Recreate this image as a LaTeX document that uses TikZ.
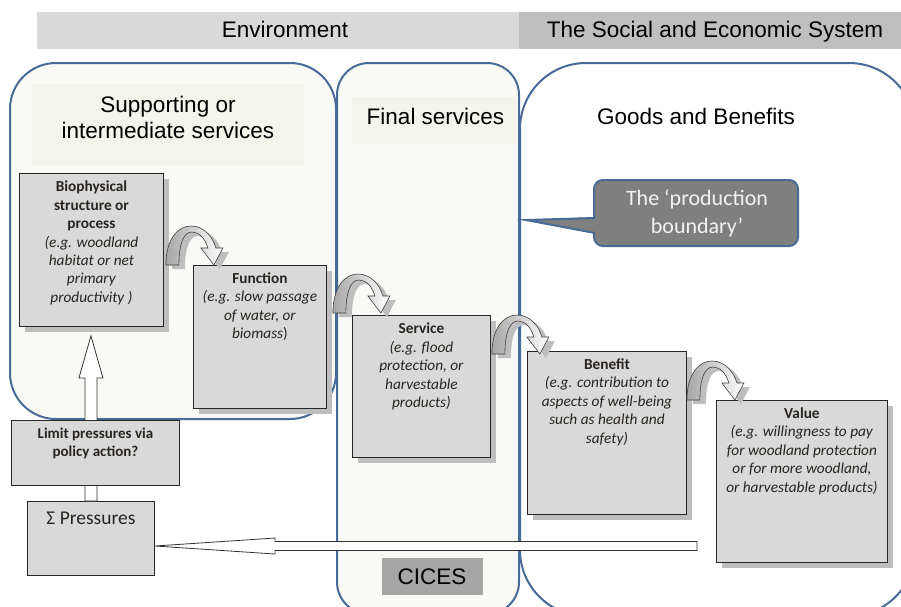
\documentclass[tikz,border=0pt]{standalone}
\usepackage{fontspec}
\setmainfont{Liberation Sans}
\newfontfamily\calfont{Carlito}
\usetikzlibrary{calc,shadows}
\definecolor{bline}{RGB}{71,107,150}
\definecolor{envbar}{RGB}{217,217,217}
\definecolor{socbar}{RGB}{191,191,191}
\definecolor{regfill}{RGB}{249,250,245}
\definecolor{labfill}{RGB}{243,244,236}
\definecolor{calfill}{RGB}{127,127,127}
\definecolor{boxgray}{RGB}{217,217,217}
\definecolor{shadgray}{RGB}{190,190,190}
\definecolor{cicesgray}{RGB}{166,166,166}
\definecolor{txtdark}{RGB}{40,36,32}
\tikzset{
  region/.style={draw=bline, line width=2pt},
  hdr/.style={font=\fontsize{22.5}{26.5}\selectfont, align=center, inner sep=0pt, anchor=base},
  plainbox/.style={draw=black!85, fill=boxgray, line width=0.9pt, inner sep=0pt, anchor=north west},
  gbox/.style={plainbox, drop shadow={shadow xshift=6pt, shadow yshift=-6pt, fill=shadgray, opacity=1}},
  btxt/.style={font=\calfont\fontsize{15.3}{18.4}\selectfont, align=center, inner sep=0pt, anchor=north, text=txtdark},
  blockarrow/.style={draw=black!80, fill=white, line width=0.8pt, line join=miter},
  uturn/.pic={
    \fill[shadgray] (6,4) .. controls (6,-22) and (18,-35) .. (31,-35) .. controls (44,-35) and (53,-24) .. (56,-13) -- (63,-13) -- (54,4) -- (41,-13) -- (48,-13) .. controls (45,-23) and (39,-29) .. (32,-29) .. controls (24,-29) and (19,-18) .. (19,4) -- cycle;
    \draw[draw=black!75, line width=0.6pt, left color=black!35, middle color=white, right color=white] (0,0) .. controls (0,-26) and (12,-39) .. (25,-39) .. controls (38,-39) and (47,-28) .. (50,-17) -- (57,-17) -- (48,0) -- (35,-17) -- (42,-17) .. controls (39,-27) and (33,-33) .. (26,-33) .. controls (18,-33) and (13,-22) .. (13,0) -- cycle;
  }
}
\begin{document}
\begin{tikzpicture}[x=1pt,y=-1pt]
\useasboundingbox (0,0) rectangle (901,606);
\clip (0,0) rectangle (901,606);
% header bars
\fill[envbar] (37,12) rectangle (519,49);
\fill[socbar] (519,12) rectangle (901,49);
\node[hdr] (env) at (285,37.5) {Environment};
\node[hdr] (soc) at (715,37.5) {The Social and Economic System};
% regions
\draw[region, fill=regfill, rounded corners=46pt] (10,63) rectangle (336,419);
\draw[region, fill=regfill, rounded corners=32pt] (337,63) rectangle (519,614);
\draw[region, fill=white, rounded corners=66pt] (520,63) rectangle (915,616);
% region labels
\fill[labfill] (32,84) rectangle (304,166);
\fill[labfill] (352,97) rectangle (517,144);
\node[hdr] (supp) at (168,138.5) {Supporting or\\intermediate services};
\node[hdr] (fin) at (435.5,124) {Final services};
\node[hdr] (goods) at (696,124) {Goods and Benefits};
% callout
\draw[region, fill=calfill, rounded corners=9pt] (594,180) rectangle (798,246);
\fill[calfill] (526,220) -- (596,217) -- (596,234) -- cycle;
\draw[bline, line width=2pt, line join=miter] (595,218) -- (526,220) -- (595,233);
\node[font=\calfont\fontsize{22}{28}\selectfont, text=white!95!black, align=center, inner sep=0pt] (cal) at (697,213) {The ‘production\\boundary’};
% CICES
\node[fill=cicesgray, minimum width=101pt, minimum height=37pt, inner sep=0pt, anchor=north west] (cicesbox) at (382,558) {};
\node[font=\fontsize{22.5}{26}\selectfont, inner sep=0pt, anchor=base] (cices) at (432,584.3) {CICES};
% boxes
\node[gbox, minimum width=144pt, minimum height=153pt] (bio) at (19,173) {};
\node[gbox, minimum width=133pt, minimum height=143pt] (func) at (193,265) {};
\node[gbox, minimum width=138pt, minimum height=142pt] (serv) at (352,315) {};
\node[gbox, minimum width=159pt, minimum height=163pt] (ben) at (527,351) {};
\node[gbox, minimum width=171pt, minimum height=162pt] (val) at (716,400) {};
\node[plainbox, minimum width=127pt, minimum height=74pt] (sig) at (27,501) {};
% up arrow (drawn under the limit box)
\draw[blockarrow] ($(sig.north)+(-6,0)$) -- ($(sig.north)+(-6,-123)$) -- ($(sig.north)+(-12,-123)$)
  -- ($(sig.north |- bio.south)+(0,9)$) -- ($(sig.north)+(12,-123)$) -- ($(sig.north)+(6,-123)$)
  -- ($(sig.north)+(6,0)$) -- cycle;
\node[plainbox, minimum width=168pt, minimum height=65pt] (lim) at (11,420) {};
% box texts
\node[btxt] (biot) at ($(bio.north)+(0,8)$) {\textbf{Biophysical}\\\textbf{structure or}\\\textbf{process}\\\textit{(e.g. woodland}\\\textit{habitat or net}\\\textit{primary}\\\textit{productivity )}};
\node[btxt] (funct) at ($(func.north)+(0,7.5)$) {\textbf{Function}\\\textit{(e.g. slow passage}\\\textit{of water, or}\\\textit{biomass})};
\node[btxt] (servt) at ($(serv.north)+(0,8)$) {\textbf{Service}\\\textit{(e.g. flood}\\\textit{protection, or}\\\textit{harvestable}\\\textit{products)}};
\node[btxt] (bent) at ($(ben.north)+(0,7.5)$) {\textbf{Benefit}\\\textit{(e.g. contribution to}\\\textit{aspects of well-being}\\\textit{such as health and}\\\textit{safety)}};
\node[btxt] (valt) at ($(val.north)+(0,7.5)$) {\textbf{Value}\\\textit{(e.g. willingness to pay}\\\textit{for woodland protection}\\\textit{or for more woodland,}\\\textit{or harvestable products)}};
\node[btxt, font=\calfont\fontsize{15}{17.5}\selectfont] (limt) at ($(lim.north)+(0,8)$) {\textbf{Limit pressures via}\\\textbf{policy action?}};
\node[btxt, font=\calfont\fontsize{19.5}{23}\selectfont] (sigt) at ($(sig.north)+(0,11)$) {Σ Pressures};
% curved arrows between boxes
\pic at ($(bio.east |- func.north)+(2,0)$) {uturn};
\pic at ($(func.east |- serv.north)+(6,-2)$) {uturn};
\pic at ($(serv.east |- ben.north)+(1,3)$) {uturn};
\pic at ($(ben.east |- val.north)+(0,0)$) {uturn};
% long arrow back to pressures
\coordinate (lstart) at (697,546);
\draw[blockarrow] ($(lstart)+(0,-4.5)$) -- ($(sig.east |- lstart)+(120,-4.5)$) -- ($(sig.east |- lstart)+(120,-8)$)
  -- (sig.east |- lstart) -- ($(sig.east |- lstart)+(120,8)$) -- ($(sig.east |- lstart)+(120,4.5)$)
  -- ($(lstart)+(0,4.5)$) -- cycle;
\end{tikzpicture}
\end{document}
